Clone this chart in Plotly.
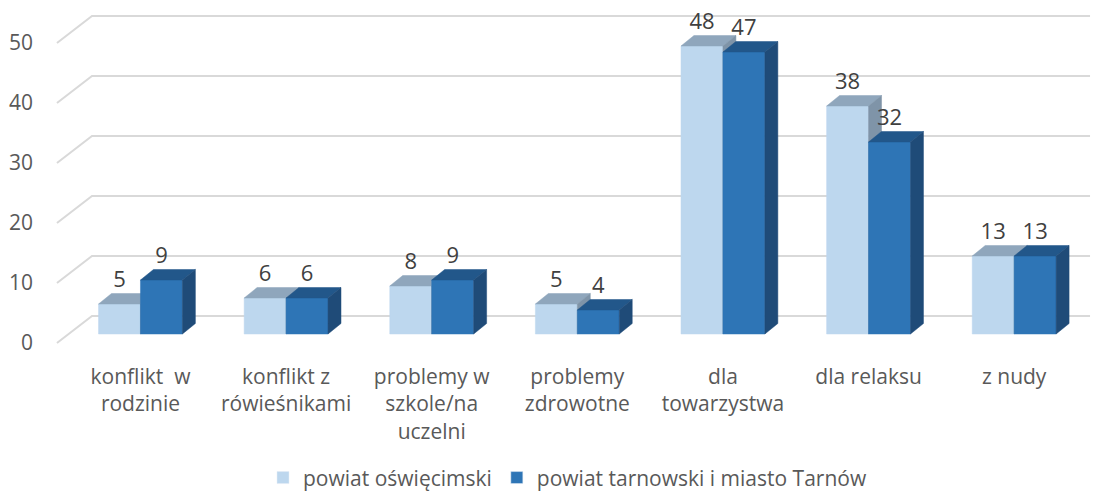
import plotly.graph_objects as go

categories = ["konflikt\u00a0 w<br>rodzinie", "konflikt z<br>rówieśnikami", "problemy w<br>szkole/na<br>uczelni",
              "problemy<br>zdrowotne", "dla<br>towarzystwa", "dla relaksu", "z nudy"]
series_names = ["powiat oświęcimski", "powiat tarnowski i miasto Tarnów"]
oswiecimski = [5, 6, 8, 5, 48, 38, 13]
tarnowski = [9, 6, 9, 4, 47, 32, 13]
y_ticks = [0, 10, 20, 30, 40, 50]

# styles
front_cols = ["#BDD7EE", "#2E75B6"]
top_cols = ["#8FA6BC", "#22578A"]
side_cols = ["#7F94A8", "#1F4B78"]
grid_col = "#D9D9D9"
W = 0.288      # bar width (category units)
DX = 0.089     # depth offset x (category units)
DY = 1.75      # depth offset y (value units)

fig = go.Figure()

# back-wall gridlines with floor diagonal
gx, gy = [], []
for v in y_ticks:
    gx += [-0.5735, -0.333, 6.521, None]
    gy += [v - 1.5, v + 3, v + 3, None]
fig.add_trace(go.Scatter(x=gx, y=gy, mode="lines", line=dict(color=grid_col, width=2),
                         hoverinfo="skip", showlegend=False))


def faces(vals, offset):
    fx, fy, tx, ty, sx, sy = [], [], [], [], [], []
    for i, v in enumerate(vals):
        xa = i + offset
        xb = xa + W
        fx += [xa, xb, xb, xa, xa, None]
        fy += [0, 0, v, v, 0, None]
        tx += [xa, xb, xb + DX, xa + DX, xa, None]
        ty += [v, v, v + DY, v + DY, v, None]
        sx += [xb, xb + DX, xb + DX, xb, xb, None]
        sy += [0, DY, v + DY, v, 0, None]
    return (fx, fy), (tx, ty), (sx, sy)


for k, (vals, off) in enumerate([(oswiecimski, -W), (tarnowski, 0.0)]):
    (fx, fy), (tx, ty), (sx, sy) = faces(vals, off)
    for (xx, yy, col) in [(fx, fy, front_cols[k]), (tx, ty, top_cols[k]), (sx, sy, side_cols[k])]:
        fig.add_trace(go.Scatter(x=xx, y=yy, mode="lines", fill="toself", fillcolor=col,
                                 line=dict(color=col, width=0.5), hoverinfo="skip", showlegend=False))

# data labels
for vals, off in [(oswiecimski, -W / 2), (tarnowski, W / 2)]:
    fig.add_trace(go.Scatter(x=[i + off for i in range(len(vals))], y=[v + 3.7 for v in vals],
                             mode="text", text=[str(v) for v in vals], textposition="middle center",
                             textfont=dict(size=22, color="#404040", family="Open Sans"),
                             hoverinfo="skip", showlegend=False, cliponaxis=False))

# legend entries
for name, col in zip(series_names, front_cols):
    fig.add_trace(go.Bar(x=[None], y=[None], name=name, marker_color=col, showlegend=True))

# the page body adds an 8px margin, so the figure is 8px smaller and offsets are compensated
fig.update_layout(
    width=1091, height=484,
    margin=dict(l=32, r=4, t=0, b=132, autoexpand=False),
    paper_bgcolor="white", plot_bgcolor="white",
    font=dict(family="Open Sans", size=21, color="#595959"),
    xaxis=dict(range=[-0.69, 6.555], tickvals=list(range(len(categories))), ticktext=categories,
               showgrid=False, zeroline=False, showline=False, ticks="", automargin=False,
               ticklabelstandoff=2, tickfont=dict(size=21, color="#595959")),
    yaxis=dict(range=[-4.333, 54.333], tickvals=y_ticks, showgrid=False, zeroline=False,
               showline=False, ticks="", ticklabelshift=9, ticklabelstandoff=6, automargin=False,
               tickfont=dict(size=21, color="#595959")),
    legend=dict(orientation="h", x=0.5, xanchor="center", y=-0.335, yanchor="middle",
                font=dict(size=21, color="#595959")),
    showlegend=True,
)

fig.write_html("out.html")
